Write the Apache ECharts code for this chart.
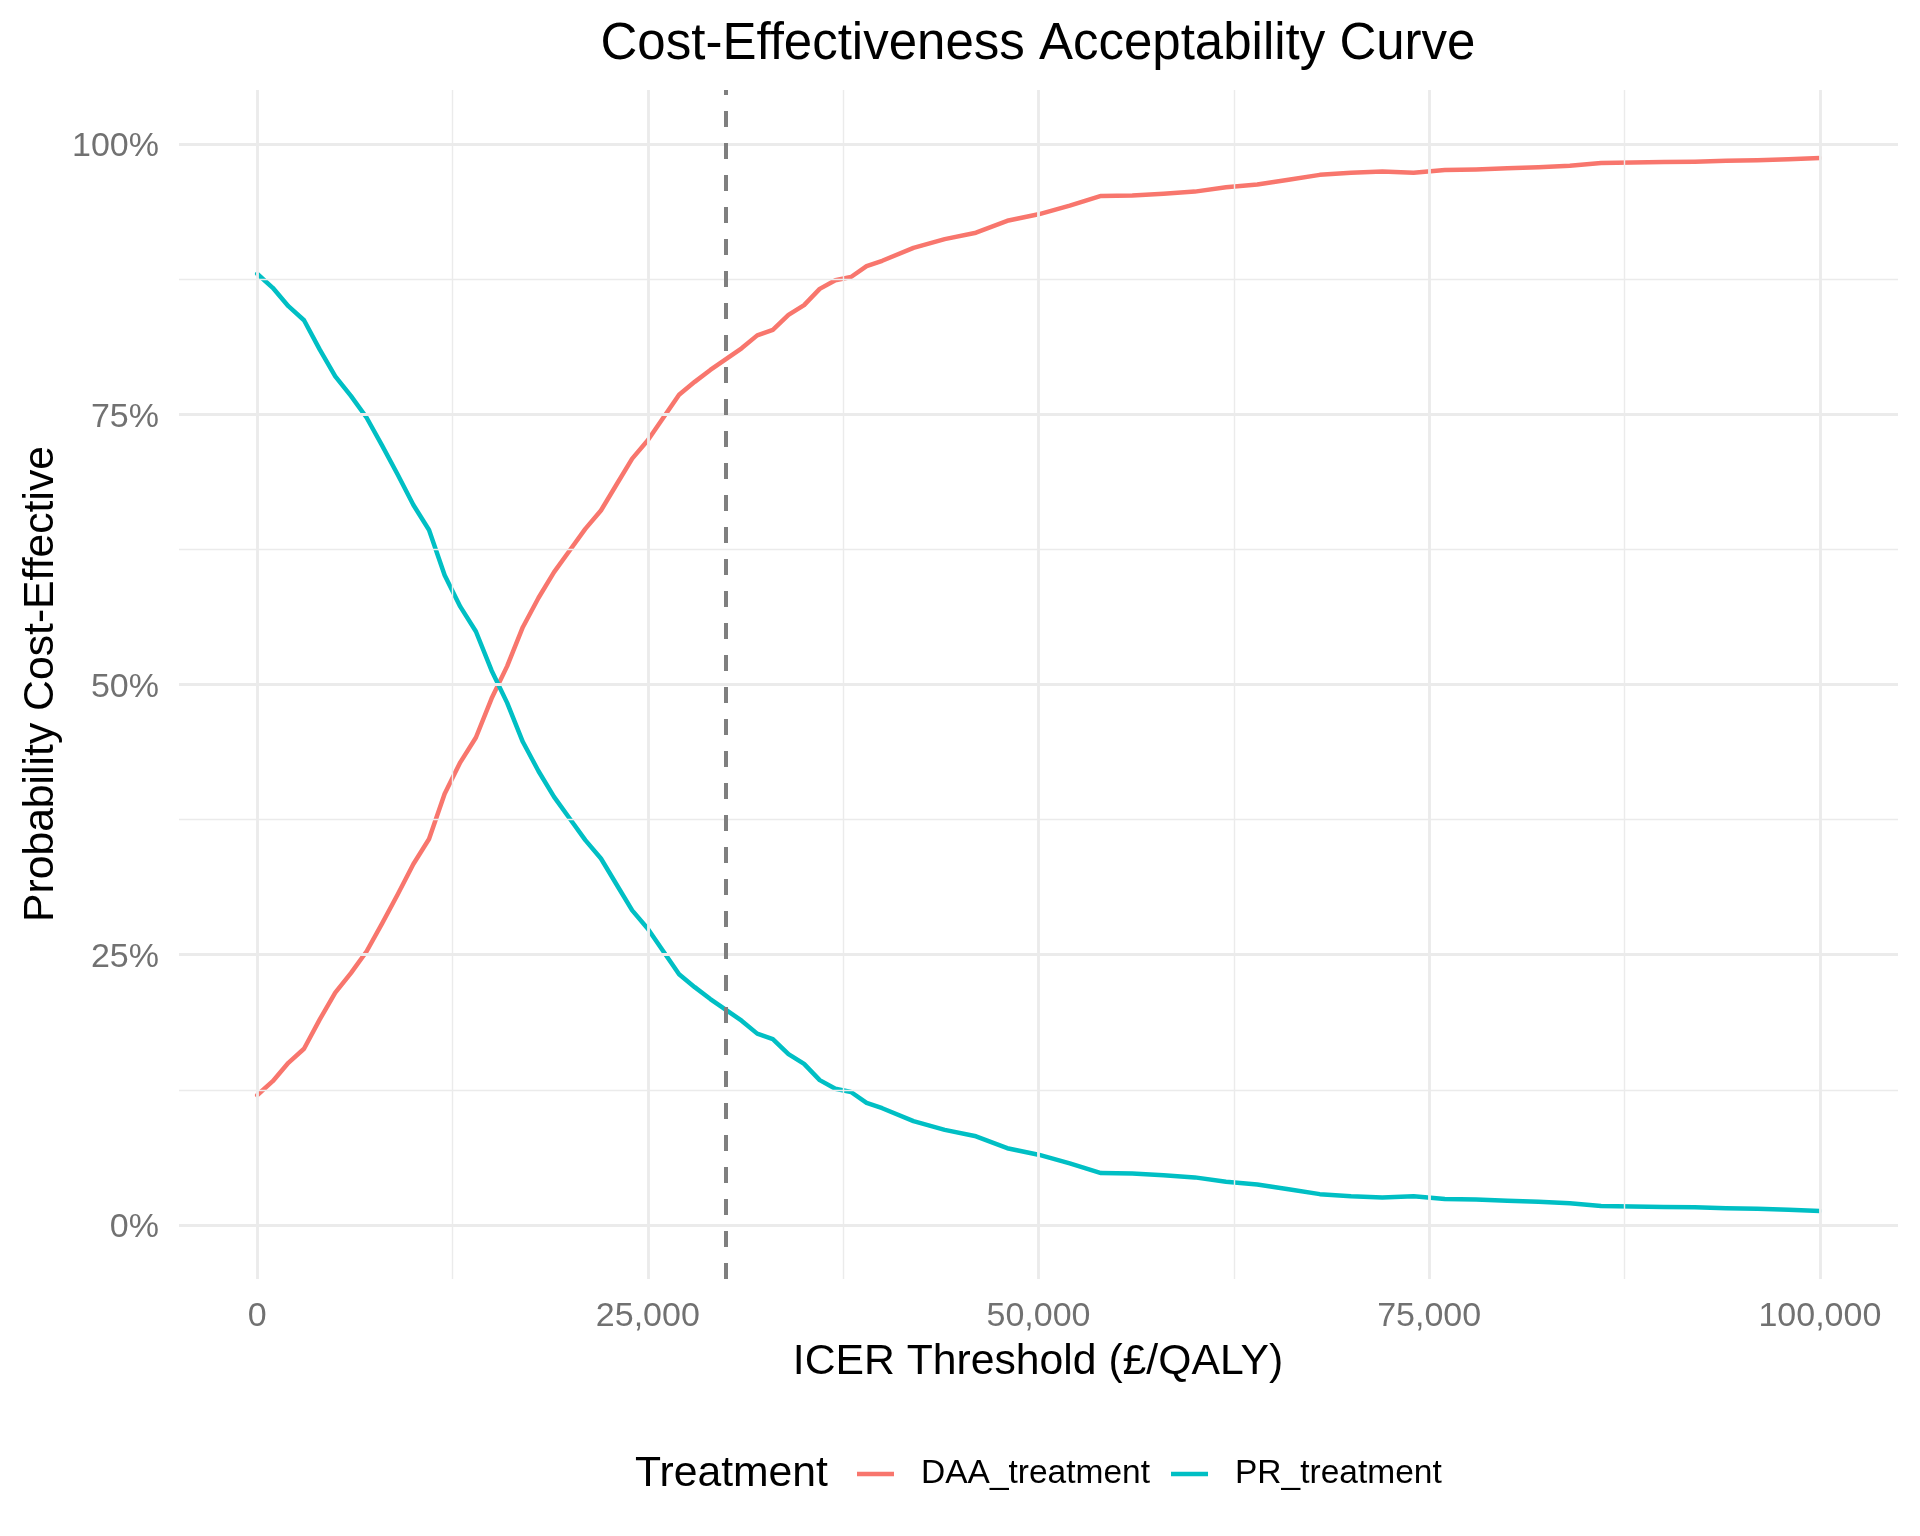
<!DOCTYPE html>
<html><head><meta charset="utf-8">
<script src="https://cdn.jsdelivr.net/npm/echarts@6/dist/echarts.min.js"></script>
<style>html,body{margin:0;padding:0;background:#fff}#c{width:1920px;height:1536px}</style>
</head><body><div id="c"></div>
<script>
// ICER thresholds (GBP per QALY)
const thresholds = [0,1000,2000,3000,4000,5000,6000,7000,8000,9000,10000,11000,12000,13000,14000,15000,16000,17000,18000,19000,20000,21000,22000,23000,24000,25000,26000,27000,28000,29000,30000,31000,32000,33000,34000,35000,36000,37000,38000,39000,40000,42000,44000,46000,48000,50000,52000,54000,56000,58000,60000,62000,64000,66000,68000,70000,72000,74000,76000,78000,80000,82000,84000,86000,88000,90000,92000,94000,96000,98000,100000];
// Probability cost-effective
const daaProb = [0.120,0.133,0.150,0.163,0.190,0.215,0.233,0.253,0.279,0.306,0.334,0.357,0.399,0.428,0.451,0.487,0.517,0.553,0.580,0.604,0.624,0.644,0.661,0.685,0.709,0.726,0.747,0.768,0.780,0.791,0.801,0.811,0.823,0.828,0.842,0.851,0.866,0.874,0.877,0.887,0.892,0.904,0.912,0.918,0.929,0.935,0.943,0.952,0.9525,0.954,0.956,0.960,0.9625,0.967,0.9715,0.9735,0.9745,0.9735,0.976,0.9765,0.9775,0.9785,0.980,0.9825,0.983,0.9835,0.9837,0.9845,0.985,0.986,0.987];
const prProb  = [0.880,0.867,0.850,0.837,0.810,0.785,0.767,0.747,0.721,0.694,0.666,0.643,0.601,0.572,0.549,0.513,0.483,0.447,0.420,0.396,0.376,0.356,0.339,0.315,0.291,0.274,0.253,0.232,0.220,0.209,0.199,0.189,0.177,0.172,0.158,0.149,0.134,0.126,0.123,0.113,0.108,0.096,0.088,0.082,0.071,0.065,0.057,0.048,0.0475,0.046,0.044,0.040,0.0375,0.033,0.0285,0.0265,0.0255,0.0265,0.024,0.0235,0.0225,0.0215,0.020,0.0175,0.017,0.0165,0.0163,0.0155,0.015,0.014,0.013];
const seriesNames = ['DAA_treatment','PR_treatment'];
const xMajorTicks = [0,25000,50000,75000,100000];
const xMinorTicks = [12500,37500,62500,87500];
const yMajorTicks = [0,0.25,0.5,0.75,1];
const yMinorTicks = [0.125,0.375,0.625,0.875];
const wtpLine = 30000;
const xRange = [-5000,105000];
const yRange = [-0.05,1.05];

const FONT = "'Liberation Sans', Arial, sans-serif";
const GRID = '#EBEBEB';
const chart = echarts.init(document.getElementById('c'), null, {renderer:'canvas'});

const gridLines = [];
xMajorTicks.forEach(v => gridLines.push([{coord:[v,yRange[0]], lineStyle:{width:2.85,color:GRID,type:'solid'}},{coord:[v,yRange[1]]}]));
xMinorTicks.forEach(v => gridLines.push([{coord:[v,yRange[0]], lineStyle:{width:1.42,color:GRID,type:'solid'}},{coord:[v,yRange[1]]}]));
yMajorTicks.forEach(v => gridLines.push([{coord:[xRange[0],v], lineStyle:{width:2.85,color:GRID,type:'solid'}},{coord:[xRange[1],v]}]));
yMinorTicks.forEach(v => gridLines.push([{coord:[xRange[0],v], lineStyle:{width:1.42,color:GRID,type:'solid'}},{coord:[xRange[1],v]}]));

const option = {
  animation:false,
  backgroundColor:'#ffffff',
  grid:{left:179,right:22,top:90,bottom:257,containLabel:false},
  xAxis:{type:'value',min:xRange[0],max:xRange[1],axisLine:{show:false},axisTick:{show:false},axisLabel:{show:false},splitLine:{show:false}},
  yAxis:{type:'value',min:yRange[0],max:yRange[1],axisLine:{show:false},axisTick:{show:false},axisLabel:{show:false},splitLine:{show:false}},
  legend:{
    data:seriesNames, left:857, top:1457, padding:0, orient:'horizontal',
    icon:'rect', itemWidth:37, itemHeight:4.5, itemGap:21, selectedMode:false,
    textStyle:{fontFamily:FONT,fontSize:33.5,color:'#000',padding:[0,0,0,22]}
  },
  graphic:[
    {type:'text',x:1038,y:45,style:{text:'Cost-Effectiveness Acceptability Curve',font:"51px 'Liberation Sans', Arial, sans-serif",fill:'#000',textAlign:'center',textVerticalAlign:'middle'}},
    {type:'text',x:1038,y:1362,style:{text:'ICER Threshold (£/QALY)',font:"42.7px 'Liberation Sans', Arial, sans-serif",fill:'#000',textAlign:'center',textVerticalAlign:'middle'}},
    {type:'text',x:41,y:684,rotation:Math.PI/2,style:{text:'Probability Cost-Effective',font:"42.7px 'Liberation Sans', Arial, sans-serif",fill:'#000',textAlign:'center',textVerticalAlign:'middle'}},
    {type:'text',x:635,y:1474,style:{text:'Treatment',font:"42.7px 'Liberation Sans', Arial, sans-serif",fill:'#000',textAlign:'left',textVerticalAlign:'middle'}}
  ],
  series:[
    {name:'grid',type:'scatter',data:[],z:1,silent:true,
     markLine:{silent:true,symbol:['none','none'],label:{show:false},animation:false,data:gridLines}},
    {name:seriesNames[0],type:'line',data:thresholds.map((t,i)=>[t,daaProb[i]]),showSymbol:false,symbol:'none',
     lineStyle:{color:'#F8766D',width:4.5,join:'round',cap:'round'},itemStyle:{color:'#F8766D'},z:3},
    {name:seriesNames[1],type:'line',data:thresholds.map((t,i)=>[t,prProb[i]]),showSymbol:false,symbol:'none',
     lineStyle:{color:'#00BFC4',width:4.5,join:'round',cap:'round'},itemStyle:{color:'#00BFC4'},z:3},
    {name:'wtp',type:'scatter',data:[],z:4,silent:true,
     markLine:{silent:true,symbol:['none','none'],label:{show:false},animation:false,
       data:[[{coord:[wtpLine,yRange[0]],lineStyle:{width:4,color:'#7F7F7F',type:[16,16]}},{coord:[wtpLine,yRange[1]]}]]}},
    {name:'xlabels',type:'scatter',data:xMajorTicks.map(v=>[v,yRange[0]]),symbolSize:0,silent:true,z:5,
     itemStyle:{color:'rgba(0,0,0,0)'},
     label:{show:true,position:'bottom',distance:21,fontFamily:FONT,fontSize:34,color:'#4D4D4D',
       formatter:p=>p.value[0].toLocaleString('en-US')}},
    {name:'ylabels',type:'scatter',data:yMajorTicks.map(v=>[xRange[0],v]),symbolSize:0,silent:true,z:5,
     itemStyle:{color:'rgba(0,0,0,0)'},
     label:{show:true,position:'left',distance:20,offset:[0,3],fontFamily:FONT,fontSize:34,color:'#4D4D4D',
       formatter:p=>Math.round(p.value[1]*100)+'%'}}
  ]
};
chart.setOption(option);
</script></body></html>
